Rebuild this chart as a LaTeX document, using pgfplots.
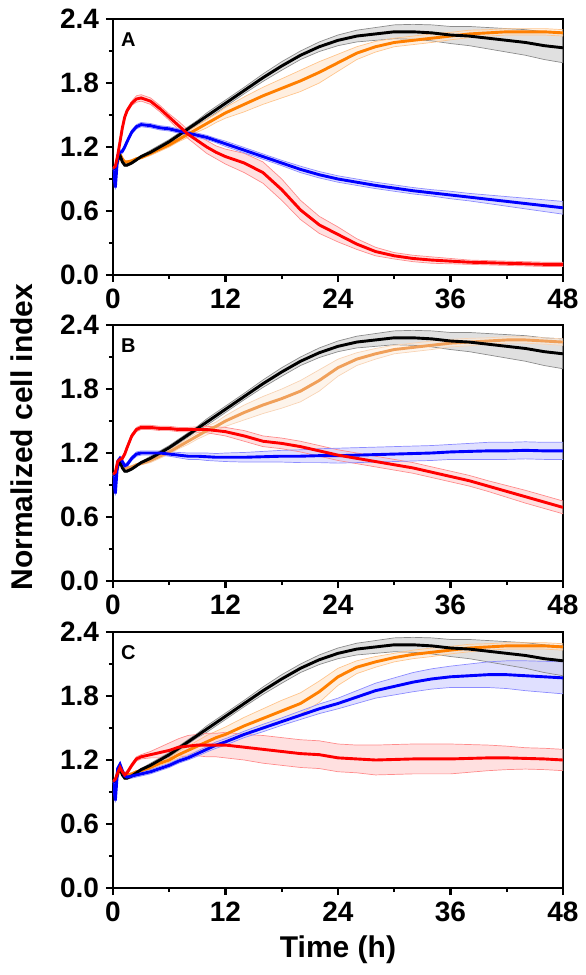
\documentclass[border=0pt]{standalone}
\usepackage{fontspec}
\setmainfont{Liberation Sans}
\usepackage{pgfplots}
\usepackage{pgfplotstable}
\pgfplotsset{compat=1.18}
\usepgfplotslibrary{fillbetween}

\definecolor{orA}{RGB}{255,127,0}
\definecolor{orB}{RGB}{240,160,90}
\definecolor{cred}{RGB}{255,0,0}
\definecolor{cblue}{RGB}{0,0,255}

\pgfplotstableread{
t    k    ke    o    oe    r    re    b    be
0    1.00 0.01 1.00 0.01 1.00 0.01 1.00 0.01
0.25 1.00 0.01 1.00 0.01 1.02 0.01 0.82 0.02
0.5  1.08 0.01 1.06 0.01 1.12 0.02 1.12 0.02
0.75 1.12 0.01 1.13 0.01 1.25 0.02 1.15 0.02
1    1.06 0.01 1.09 0.01 1.38 0.02 1.16 0.02
1.25 1.03 0.01 1.06 0.01 1.48 0.02 1.20 0.02
1.5  1.03 0.01 1.06 0.01 1.54 0.02 1.25 0.02
2    1.05 0.01 1.07 0.01 1.61 0.02 1.34 0.02
2.5  1.08 0.01 1.09 0.01 1.65 0.03 1.39 0.02
3    1.11 0.01 1.10 0.01 1.66 0.03 1.41 0.02
4    1.15 0.02 1.14 0.02 1.63 0.03 1.40 0.02
5    1.20 0.02 1.18 0.02 1.56 0.03 1.38 0.02
6    1.25 0.02 1.22 0.02 1.48 0.03 1.37 0.02
7    1.31 0.02 1.27 0.02 1.40 0.04 1.35 0.02
8    1.37 0.02 1.32 0.03 1.32 0.04 1.33 0.02
9    1.43 0.02 1.37 0.03 1.26 0.05 1.31 0.02
10   1.49 0.03 1.42 0.04 1.20 0.06 1.29 0.02
11   1.55 0.03 1.47 0.04 1.15 0.06 1.26 0.02
12   1.61 0.03 1.52 0.05 1.11 0.07 1.23 0.025
14   1.73 0.03 1.60 0.07 1.05 0.09 1.17 0.025
16   1.85 0.035 1.68 0.08 0.96 0.10 1.11 0.025
18   1.96 0.04 1.75 0.09 0.80 0.10 1.05 0.025
20   2.06 0.04 1.82 0.10 0.61 0.09 0.99 0.03
22   2.14 0.045 1.90 0.10 0.47 0.08 0.94 0.03
24   2.20 0.05 1.99 0.08 0.38 0.07 0.90 0.03
26   2.24 0.055 2.08 0.06 0.29 0.05 0.87 0.03
28   2.26 0.06 2.14 0.05 0.22 0.04 0.84 0.03
30   2.28 0.065 2.18 0.04 0.18 0.03 0.815 0.03
32   2.28 0.07 2.20 0.04 0.155 0.03 0.79 0.03
34   2.27 0.075 2.22 0.04 0.14 0.03 0.77 0.03
36   2.25 0.08 2.24 0.035 0.13 0.025 0.75 0.035
38   2.24 0.09 2.26 0.035 0.12 0.02 0.73 0.035
40   2.22 0.10 2.27 0.03 0.115 0.02 0.71 0.04
42   2.20 0.11 2.28 0.03 0.11 0.02 0.69 0.045
44   2.18 0.12 2.28 0.03 0.105 0.02 0.67 0.05
46   2.15 0.13 2.28 0.03 0.10 0.02 0.65 0.055
48   2.13 0.14 2.27 0.03 0.10 0.02 0.63 0.06
}\tA

\pgfplotstableread{
t    k    ke    o    oe    r    re    b    be
0    1.00 0.01 1.00 0.01 1.00 0.01 1.00 0.01
0.25 1.00 0.01 1.00 0.01 1.02 0.01 0.82 0.02
0.5  1.08 0.01 1.06 0.01 1.12 0.02 1.12 0.02
0.75 1.12 0.01 1.13 0.01 1.14 0.02 1.15 0.02
1    1.06 0.01 1.09 0.01 1.15 0.02 1.12 0.02
1.25 1.03 0.01 1.06 0.01 1.19 0.02 1.08 0.02
1.5  1.03 0.01 1.06 0.01 1.25 0.02 1.09 0.02
2    1.05 0.01 1.07 0.01 1.36 0.02 1.15 0.02
2.5  1.08 0.01 1.09 0.01 1.42 0.02 1.19 0.02
3    1.11 0.01 1.10 0.01 1.44 0.02 1.20 0.02
4    1.15 0.02 1.13 0.02 1.44 0.02 1.20 0.02
5    1.20 0.02 1.17 0.02 1.43 0.02 1.20 0.02
6    1.25 0.02 1.21 0.02 1.43 0.02 1.19 0.02
7    1.31 0.02 1.26 0.02 1.42 0.02 1.18 0.025
8    1.37 0.02 1.31 0.03 1.42 0.02 1.17 0.03
9    1.43 0.02 1.36 0.03 1.42 0.025 1.17 0.03
10   1.49 0.03 1.41 0.04 1.42 0.03 1.165 0.035
11   1.55 0.03 1.45 0.04 1.41 0.035 1.16 0.035
12   1.61 0.03 1.50 0.05 1.40 0.04 1.16 0.04
14   1.73 0.03 1.58 0.07 1.36 0.05 1.16 0.045
16   1.85 0.035 1.65 0.08 1.31 0.05 1.165 0.05
18   1.96 0.04 1.71 0.09 1.29 0.05 1.17 0.055
20   2.06 0.04 1.78 0.10 1.26 0.05 1.17 0.06
22   2.14 0.045 1.88 0.10 1.22 0.05 1.175 0.065
24   2.20 0.05 2.00 0.08 1.18 0.05 1.175 0.07
26   2.24 0.055 2.08 0.06 1.15 0.05 1.18 0.07
28   2.26 0.06 2.13 0.05 1.12 0.05 1.185 0.07
30   2.28 0.065 2.17 0.04 1.09 0.05 1.19 0.07
32   2.28 0.07 2.19 0.04 1.06 0.05 1.195 0.07
34   2.27 0.075 2.21 0.04 1.02 0.05 1.20 0.07
36   2.25 0.08 2.23 0.035 0.98 0.05 1.21 0.07
38   2.24 0.09 2.24 0.035 0.94 0.05 1.215 0.075
40   2.22 0.10 2.25 0.03 0.89 0.05 1.22 0.08
42   2.20 0.11 2.26 0.03 0.84 0.055 1.22 0.08
44   2.18 0.12 2.26 0.03 0.79 0.06 1.225 0.08
46   2.15 0.13 2.25 0.03 0.74 0.06 1.22 0.08
48   2.13 0.14 2.24 0.03 0.69 0.06 1.22 0.08
}\tB

\pgfplotstableread{
t    k    ke    o    oe    r    re    b    be
0    1.00 0.01 1.00 0.01 1.00 0.01 1.00 0.01
0.25 1.00 0.01 1.00 0.01 1.02 0.01 0.82 0.02
0.5  1.08 0.01 1.06 0.01 1.08 0.02 1.12 0.02
0.75 1.12 0.01 1.13 0.01 1.13 0.02 1.16 0.02
1    1.06 0.01 1.09 0.01 1.09 0.02 1.10 0.02
1.25 1.03 0.01 1.06 0.01 1.06 0.02 1.05 0.02
1.5  1.03 0.01 1.06 0.01 1.08 0.02 1.04 0.02
2    1.05 0.01 1.07 0.01 1.15 0.02 1.05 0.02
2.5  1.08 0.01 1.09 0.01 1.21 0.02 1.06 0.02
3    1.11 0.01 1.10 0.01 1.23 0.02 1.07 0.02
4    1.15 0.02 1.13 0.02 1.25 0.03 1.09 0.02
5    1.20 0.02 1.17 0.02 1.27 0.05 1.12 0.02
6    1.25 0.02 1.20 0.02 1.29 0.07 1.15 0.02
7    1.31 0.02 1.25 0.03 1.32 0.08 1.19 0.02
8    1.37 0.02 1.29 0.04 1.33 0.10 1.22 0.02
9    1.43 0.02 1.33 0.05 1.34 0.10 1.26 0.025
10   1.49 0.03 1.37 0.06 1.34 0.11 1.30 0.025
11   1.55 0.03 1.41 0.06 1.34 0.11 1.34 0.03
12   1.61 0.03 1.44 0.07 1.34 0.12 1.37 0.03
14   1.73 0.03 1.52 0.08 1.32 0.12 1.44 0.03
16   1.85 0.035 1.59 0.09 1.30 0.13 1.50 0.035
18   1.96 0.04 1.66 0.10 1.28 0.13 1.56 0.035
20   2.06 0.04 1.73 0.10 1.26 0.13 1.62 0.04
22   2.14 0.045 1.84 0.10 1.25 0.13 1.68 0.045
24   2.20 0.05 1.98 0.08 1.22 0.13 1.73 0.05
26   2.24 0.055 2.07 0.06 1.21 0.13 1.79 0.06
28   2.26 0.06 2.12 0.05 1.20 0.14 1.85 0.07
30   2.28 0.065 2.16 0.04 1.205 0.14 1.89 0.08
32   2.28 0.07 2.19 0.04 1.21 0.14 1.93 0.09
34   2.27 0.075 2.21 0.04 1.21 0.14 1.96 0.095
36   2.25 0.08 2.23 0.035 1.21 0.14 1.98 0.10
38   2.24 0.09 2.25 0.035 1.215 0.13 1.99 0.11
40   2.22 0.10 2.26 0.03 1.22 0.12 2.00 0.12
42   2.20 0.11 2.27 0.03 1.22 0.11 2.00 0.13
44   2.18 0.12 2.27 0.03 1.215 0.10 1.99 0.14
46   2.15 0.13 2.27 0.03 1.21 0.10 1.98 0.145
48   2.13 0.14 2.26 0.03 1.20 0.10 1.97 0.15
}\tC

\pgfplotsset{panel/.style={
  scale only axis, width=225pt, height=128pt,
  xmin=0, xmax=48, ymin=0, ymax=2.4,
  xtick={0,12,24,36,48}, ytick={0,0.6,1.2,1.8,2.4},
  minor x tick num=1, minor y tick num=1,
  tick align=outside, xtick pos=left, ytick pos=left,
  major tick length=3.5pt, minor tick length=2pt,
  tick style={line width=1.1pt, black},
  axis line style={line width=1.3pt},
  ticklabel style={font=\bfseries\fontsize{14}{16}\selectfont},
  /pgf/number format/assume math mode=true,
  yticklabel style={/pgf/number format/fixed, /pgf/number format/fixed zerofill, /pgf/number format/precision=1},
}}

% #1 table, #2 column, #3 error column, #4 colour, #5 id
\newcommand{\band}[5]{%
  \addplot[#4!45, line width=0.35pt, name path=U#5] table[x=t, y expr=\thisrow{#2}+\thisrow{#3}] {#1};
  \addplot[#4!45, line width=0.35pt, name path=L#5] table[x=t, y expr=\thisrow{#2}-\thisrow{#3}] {#1};
  \addplot[fill=#4!20, fill opacity=0.6, draw=none] fill between[of=U#5 and L#5];
}

\newcommand{\panellines}[2]{% #1 table, #2 orange colour
  \addplot[#2, line width=1.45pt] table[x=t, y=o] {#1};
  \addplot[black, line width=1.45pt] table[x=t, y=k] {#1};
  \addplot[cblue, line width=1.45pt] table[x=t, y=b] {#1};
  \addplot[cred, line width=1.45pt] table[x=t, y=r] {#1};
}

\begin{document}
\begin{tikzpicture}
\begin{axis}[panel, at={(0,0)}, anchor=north west]
  \band{\tA}{k}{ke}{black}{ak}
  \band{\tA}{o}{oe}{orA}{ao}
  \band{\tA}{r}{re}{cred}{ar}
  \band{\tA}{b}{be}{cblue}{ab}
  \panellines{\tA}{orA}
  \node[anchor=north west, inner sep=0, font=\bfseries\fontsize{10}{12}\selectfont] at (rel axis cs:0.017,0.948) {A};
\end{axis}

\begin{axis}[panel, at={(0,-153pt)}, anchor=north west]
  \band{\tB}{k}{ke}{black}{bk}
  \band{\tB}{o}{oe}{orB}{bo}
  \band{\tB}{r}{re}{cred}{br}
  \band{\tB}{b}{be}{cblue}{bb}
  \panellines{\tB}{orB}
  \node[anchor=north west, inner sep=0, font=\bfseries\fontsize{10}{12}\selectfont] at (rel axis cs:0.017,0.948) {B};
\end{axis}

\begin{axis}[panel, at={(0,-306.5pt)}, anchor=north west,
  xlabel={Time (h)}, xlabel style={font=\bfseries\fontsize{15}{18}\selectfont}]
  \band{\tC}{k}{ke}{black}{ck}
  \band{\tC}{o}{oe}{orA}{co}
  \band{\tC}{r}{re}{cred}{cr}
  \band{\tC}{b}{be}{cblue}{cb}
  \panellines{\tC}{orA}
  \node[anchor=north west, inner sep=0, font=\bfseries\fontsize{10}{12}\selectfont] at (rel axis cs:0.017,0.948) {C};
\end{axis}

\node[rotate=90, font=\bfseries\fontsize{15}{18}\selectfont] at (-45.5pt,-209pt) {Normalized cell index};
\path[use as bounding box] (-56.5pt,9.5pt) rectangle (236pt,-478pt);
\end{tikzpicture}
\end{document}
